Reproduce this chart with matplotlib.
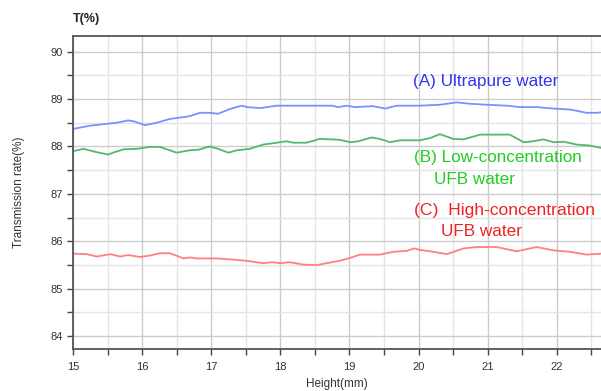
import numpy as np
import matplotlib.pyplot as plt
from matplotlib.ticker import MultipleLocator

# Ultrapure water (A)
height_a = [15.0, 15.25, 15.44, 15.63, 15.8, 15.88, 16.04, 16.21, 16.4, 16.6, 16.69, 16.84, 16.98, 17.1,
            17.27, 17.44, 17.52, 17.71, 17.95, 18.76, 18.83, 18.96, 19.08, 19.34, 19.52, 19.68, 20.02,
            20.31, 20.55, 20.75, 20.99, 21.28, 21.47, 21.71, 21.95, 22.19, 22.43, 22.58, 22.64]
trans_a = [88.37, 88.44, 88.47, 88.5, 88.55, 88.53, 88.45, 88.5, 88.58, 88.62, 88.64, 88.71, 88.71, 88.69,
           88.79, 88.86, 88.83, 88.81, 88.86, 88.86, 88.83, 88.86, 88.83, 88.85, 88.8, 88.86, 88.86,
           88.88, 88.93, 88.9, 88.88, 88.86, 88.83, 88.83, 88.8, 88.78, 88.71, 88.71, 88.72]

# Low-concentration UFB water (B)
height_b = [15.0, 15.15, 15.34, 15.51, 15.6, 15.73, 15.92, 16.11, 16.26, 16.5, 16.69, 16.81, 16.98, 17.1,
            17.25, 17.37, 17.56, 17.75, 17.95, 18.09, 18.19, 18.38, 18.57, 18.74, 18.86, 19.01, 19.13,
            19.32, 19.44, 19.59, 19.73, 20.02, 20.17, 20.31, 20.5, 20.65, 20.89, 21.32, 21.52, 21.66,
            21.81, 21.95, 22.1, 22.29, 22.48, 22.64]
trans_b = [87.9, 87.95, 87.88, 87.83, 87.88, 87.94, 87.95, 87.99, 87.99, 87.87, 87.92, 87.93, 88.0, 87.95,
           87.87, 87.92, 87.95, 88.04, 88.08, 88.11, 88.08, 88.08, 88.16, 88.15, 88.14, 88.09, 88.11,
           88.19, 88.16, 88.09, 88.13, 88.13, 88.18, 88.26, 88.16, 88.15, 88.25, 88.25, 88.09, 88.11,
           88.15, 88.09, 88.1, 88.04, 88.02, 87.97]

# High-concentration UFB water (C)
height_c = [15.0, 15.2, 15.34, 15.54, 15.68, 15.8, 15.97, 16.11, 16.26, 16.4, 16.6, 16.69, 16.79, 17.08,
            17.27, 17.51, 17.75, 17.88, 18.0, 18.14, 18.33, 18.53, 18.67, 18.86, 19.01, 19.15, 19.44,
            19.64, 19.83, 19.93, 20.02, 20.21, 20.41, 20.65, 20.84, 21.13, 21.42, 21.71, 21.95, 22.19,
            22.43, 22.64]
trans_c = [85.74, 85.73, 85.68, 85.73, 85.68, 85.71, 85.67, 85.7, 85.75, 85.75, 85.64, 85.66, 85.64, 85.64,
           85.62, 85.59, 85.54, 85.56, 85.54, 85.56, 85.51, 85.5, 85.54, 85.59, 85.65, 85.72, 85.72,
           85.78, 85.8, 85.85, 85.82, 85.78, 85.73, 85.85, 85.88, 85.88, 85.79, 85.88, 85.81, 85.78,
           85.72, 85.74]

plt.rcParams['font.family'] = ['Liberation Sans', 'DejaVu Sans']

fig = plt.figure(figsize=(6.01, 3.91), dpi=100)
ax = fig.add_axes([0.1215, 0.1074, 0.8785, 0.8006])

ax.plot(height_a, trans_a, color='#7592ff', lw=1.3)
ax.plot(height_b, trans_b, color='#52b870', lw=1.3)
ax.plot(height_c, trans_c, color='#ff8080', lw=1.3)

ax.set_xlim(15, 22.64)
ax.set_ylim(83.73, 90.33)
ax.xaxis.set_major_locator(MultipleLocator(1))
ax.xaxis.set_minor_locator(MultipleLocator(0.5))
ax.yaxis.set_major_locator(MultipleLocator(1))
ax.yaxis.set_minor_locator(MultipleLocator(0.5))
ax.grid(which='major', color='#cccccc', lw=1.0)
ax.grid(which='minor', color='#e4e4e4', lw=1.0)
ax.set_axisbelow(True)

ax.tick_params(which='both', direction='out', length=4, width=1, color='#444444',
               labelsize=8, labelcolor='#333333')
ax.tick_params(axis='x', pad=5)
ax.spines['right'].set_visible(False)
for s in ['left', 'bottom', 'top']:
    ax.spines[s].set_color('#555555')
    ax.spines[s].set_linewidth(1.3)

ax.set_xlabel('Height(mm)', fontsize=8.5, color='#333333', labelpad=5)
ax.set_ylabel('Transmission rate(%)', fontsize=8.5, color='#333333', labelpad=18)
fig.text(73 / 601, 1 - 19 / 391, 'T(%)', fontsize=9, fontweight='bold', color='#222222', va='center')

ax.text(20.97, 89.38, '(A) Ultrapure water', color='#3333ee', fontsize=12.3, ha='center', va='center')
ax.text(21.15, 87.77, '(B) Low-concentration', color='#22cc22', fontsize=12.3, ha='center', va='center')
ax.text(20.22, 87.31, 'UFB water', color='#22cc22', fontsize=12.3, ha='left', va='center')
ax.text(21.24, 86.65, '(C)  High-concentration', color='#ee2222', fontsize=12.6, ha='center', va='center')
ax.text(20.32, 86.21, 'UFB water', color='#ee2222', fontsize=12.3, ha='left', va='center')

fig.savefig('out.png', dpi=100)
